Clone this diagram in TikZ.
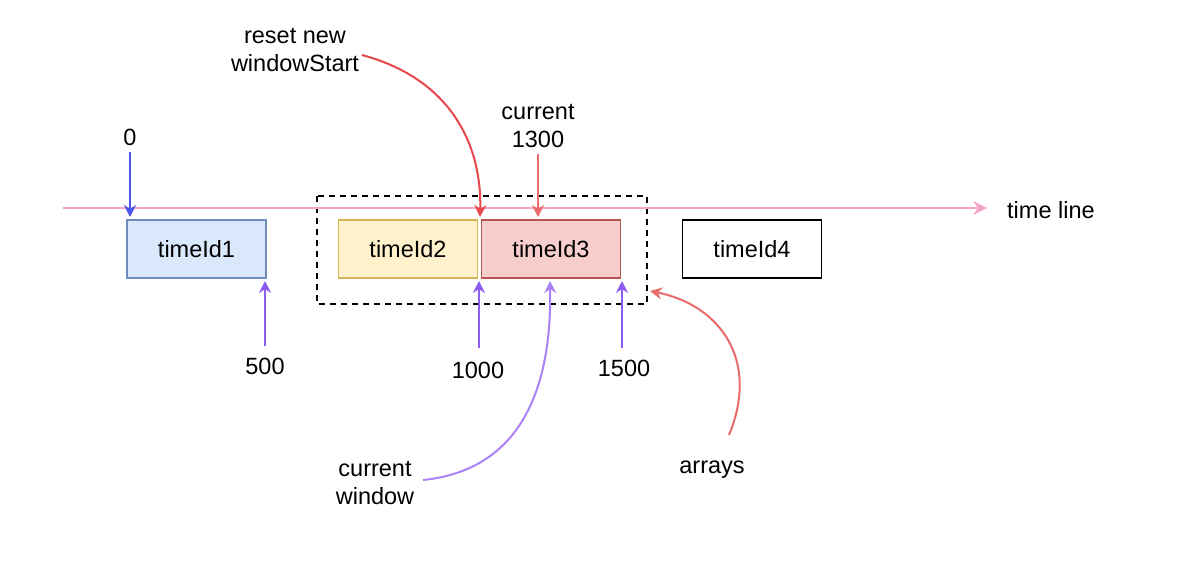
\documentclass[tikz,border=0pt]{standalone}
\usepackage{fontspec}
\setmainfont{Liberation Sans}
\usetikzlibrary{arrows.meta}
\definecolor{tlpink}{HTML}{F4A6C6}
\definecolor{bluefill}{HTML}{DAE8FC}
\definecolor{blueline}{HTML}{6C8EBF}
\definecolor{yelfill}{HTML}{FFF2CC}
\definecolor{yelline}{HTML}{D6B656}
\definecolor{redfill}{HTML}{F8CECC}
\definecolor{redline}{HTML}{B85450}
\definecolor{zeroblue}{HTML}{4B55E6}
\definecolor{purp}{HTML}{8C5CF2}
\definecolor{lpurp}{HTML}{AA82F4}
\definecolor{rred}{HTML}{E8474C}
\definecolor{lred}{HTML}{EA6B6B}
\tikzset{
  every node/.style={font=\fontsize{23.5}{28}\selectfont},
  box/.style={draw, line width=1.5pt, minimum width=139pt, minimum height=58pt, inner sep=0pt},
  lbl/.style={inner sep=0pt, align=center},
  tip/.style={-{Stealth[length=12pt,width=12pt,inset=4pt]}, line width=2pt},
}
\begin{document}
\begin{tikzpicture}[x=1pt,y=-1pt]
\useasboundingbox (0,0) rectangle (1186,574);
% dashed window
\draw[dashed, line width=1.5pt, dash pattern=on 6pt off 5pt] (317,196) rectangle (647,304);
% time line
\coordinate (tls) at (63,208);
\coordinate (tle) at (987,208);
\draw[tlpink, line width=2pt, -{Stealth[length=14pt,width=14pt,inset=5pt]}] (tls) -- (tle);
\node[lbl, anchor=west] (tl) at (1007,210) {time line};
% boxes
\node[box, draw=blueline, fill=bluefill] (t1) at (196.5,249) {timeId1};
\node[box, draw=yelline, fill=yelfill] (t2) at (408,249) {timeId2};
\node[box, draw=redline, fill=redfill] (t3) at (551,249) {timeId3};
\node[box, draw=black, fill=white] (t4) at (752,249) {timeId4};
% labels
\node[lbl] (l0) at (130,137) {0};
\node[lbl] (l500) at (265,366) {500};
\node[lbl] (l1000) at (478,370) {1000};
\node[lbl] (l1500) at (624,368) {1500};
\node[lbl] (lreset) at (295,50) {reset new\\windowStart};
\node[lbl] (lcur) at (538,126) {current\\1300};
\node[lbl] (lwin) at (375,483) {current\\window};
\node[lbl] (larr) at (712,470) {arrays};
% tip coordinates
\coordinate (c0) at (130,217);
\coordinate (c500) at (265,281);
\coordinate (c1000) at (479,281);
\coordinate (c1500) at (622,281);
\coordinate (creset) at (480,217);
\coordinate (ccur) at (538,217);
\coordinate (cwin) at (550,281);
\coordinate (carr) at (650,291);
% straight arrows
\draw[tip, zeroblue] (c0 |- 0,152) coordinate (s0) (s0) -- (c0);
\draw[tip, purp] (c500 |- 0,346) coordinate (s500) (s500) -- (c500);
\draw[tip, purp] (c1000 |- 0,348) coordinate (s1000) (s1000) -- (c1000);
\draw[tip, purp] (c1500 |- 0,348) coordinate (s1500) (s1500) -- (c1500);
\draw[tip, lred] (ccur |- 0,154) coordinate (scur) (scur) -- (ccur);
% curved arrows
\coordinate (sreset) at (362,55);
\draw[tip, rred] (sreset) .. controls (455,80) and (482,150) .. (creset);
\coordinate (swin) at (423,480);
\draw[tip, lpurp] (swin) .. controls (520,470) and (552,390) .. (cwin);
\coordinate (sarr) at (729,435);
\draw[tip, lred] (sarr) .. controls (760,360) and (720,305) .. (carr);
\end{tikzpicture}
\end{document}
